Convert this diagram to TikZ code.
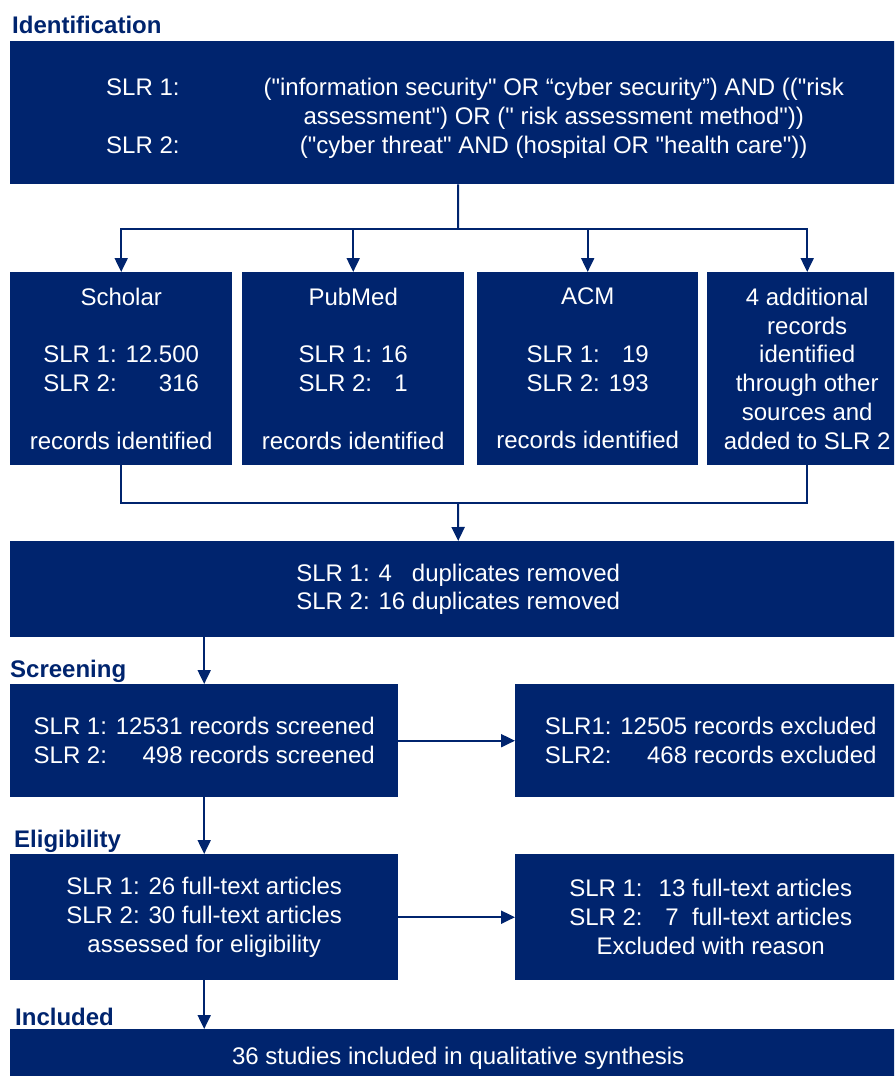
\documentclass[tikz,border=0pt]{standalone}
\usepackage{fontspec}
\setmainfont{Liberation Sans}[Ligatures=TeXOff]
\usetikzlibrary{arrows.meta}
\definecolor{navy}{RGB}{0,36,110}

\begin{document}
\begin{tikzpicture}[x=1pt,y=-1pt,
  box/.style={fill=navy, text=white, align=center, inner sep=0pt,
    anchor=north west, font=\fontsize{24}{28.8}\selectfont},
  plain/.style={text=white, inner sep=0pt, font=\fontsize{24}{28.8}\selectfont},
  phase/.style={anchor=base west, text=navy, inner sep=0pt,
    font=\fontsize{24}{28.8}\selectfont\bfseries},
  link/.style={draw=navy, line width=2pt},
  flow/.style={link, -{Triangle[width=13pt,length=14pt]}},
]
\clip (0,0) rectangle (894,1076);
\useasboundingbox (0,0) rectangle (894,1076);

% phase headings
\node[phase] (hid)  at (12,33)   {Identification};
\node[phase] (hscr) at (10,677)  {Screening};
\node[phase] (hel)  at (14,847)  {Eligibility};
\node[phase] (hinc) at (15,1025) {Included};

% search strings
\node[box, minimum width=896pt, minimum height=143pt] (search) at (10,41) {};
\node[plain, anchor=west] (query) at (106,119) {%
  \begin{tabular}{@{}c@{\hspace{84pt}}c@{}}
  SLR 1: & ("information security" OR “cyber security”) AND (("risk\\
         & assessment") OR (" risk assessment method"))\\
  SLR 2: & ("cyber threat" AND (hospital OR "health care"))
  \end{tabular}};

% databases
\node[box, minimum width=222pt, minimum height=193pt] (scholar) at (10,272)
  {Scholar\\[28.8pt]SLR 1: 12.500\\SLR 2: \hphantom{12.}316\\[28.8pt]records identified};
\node[box, minimum width=222pt, minimum height=193pt] (pubmed) at (242,272)
  {PubMed\\[28.8pt]SLR 1: 16\\SLR 2: \hphantom{1}1\\[28.8pt]records identified};
\node[box, minimum width=221pt, minimum height=193pt] (acm) at (477,272)
  {ACM\\[28.8pt]SLR 1: \hphantom{1}19\\SLR 2: 193\\[28.8pt]records identified};
\node[box, minimum width=200pt, minimum height=193pt] (other) at (707,272)
  {4 additional\\records\\identified\\through other\\sources and\\added to SLR 2};

% duplicates
\node[box, minimum width=896pt, minimum height=96pt] (dup) at (10,541)
  {SLR 1: 4\hphantom{6} duplicates removed\\SLR 2: 16 duplicates removed};

% screening
\node[box, minimum width=388pt, minimum height=113pt] (screen) at (10,684)
  {SLR 1: 12531 records screened\\SLR 2: \hphantom{12}498 records screened};
\node[box, minimum width=391pt, minimum height=113pt] (excl) at (515,684)
  {SLR1: 12505 records excluded\\SLR2: \hphantom{12}468 records excluded};

% eligibility
\node[box, minimum width=388pt, minimum height=126pt] (elig) at (10,854)
  {SLR 1: 26 full-text articles\\SLR 2: 30 full-text articles\\assessed for eligibility};
\node[box, minimum width=391pt, minimum height=126pt] (reason) at (515,854)
  {SLR 1:\hspace{16pt}13 full-text articles\\SLR 2:\hspace{16pt}\makebox[1.112em]{7} full-text articles\\Excluded with reason};

% included
\node[box, minimum width=896pt, minimum height=58pt] (incl) at (10,1029)
  {36 studies included in qualitative synthesis};

% connectors
\coordinate (split) at (458,229);
\draw[link] (search.south) -- (split);
\draw[flow] (split) -| (scholar.north);
\draw[flow] (split) -| (pubmed.north);
\draw[flow] (split) -| (acm.north);
\draw[flow] (split) -| (other.north);

\coordinate (merge) at (458,503);
\draw[link] (scholar.south) |- (merge);
\draw[link] (other.south) |- (merge);
\draw[flow] (merge) -- (dup.north);

\draw[flow] (screen.north |- dup.south) -- (screen.north);
\draw[flow] (screen.east) -- (excl.west);
\draw[flow] (screen.south) -- (elig.north);
\draw[flow] (elig.east) -- (reason.west);
\draw[flow] (elig.south) -- (incl.north -| elig.south);
\end{tikzpicture}
\end{document}
